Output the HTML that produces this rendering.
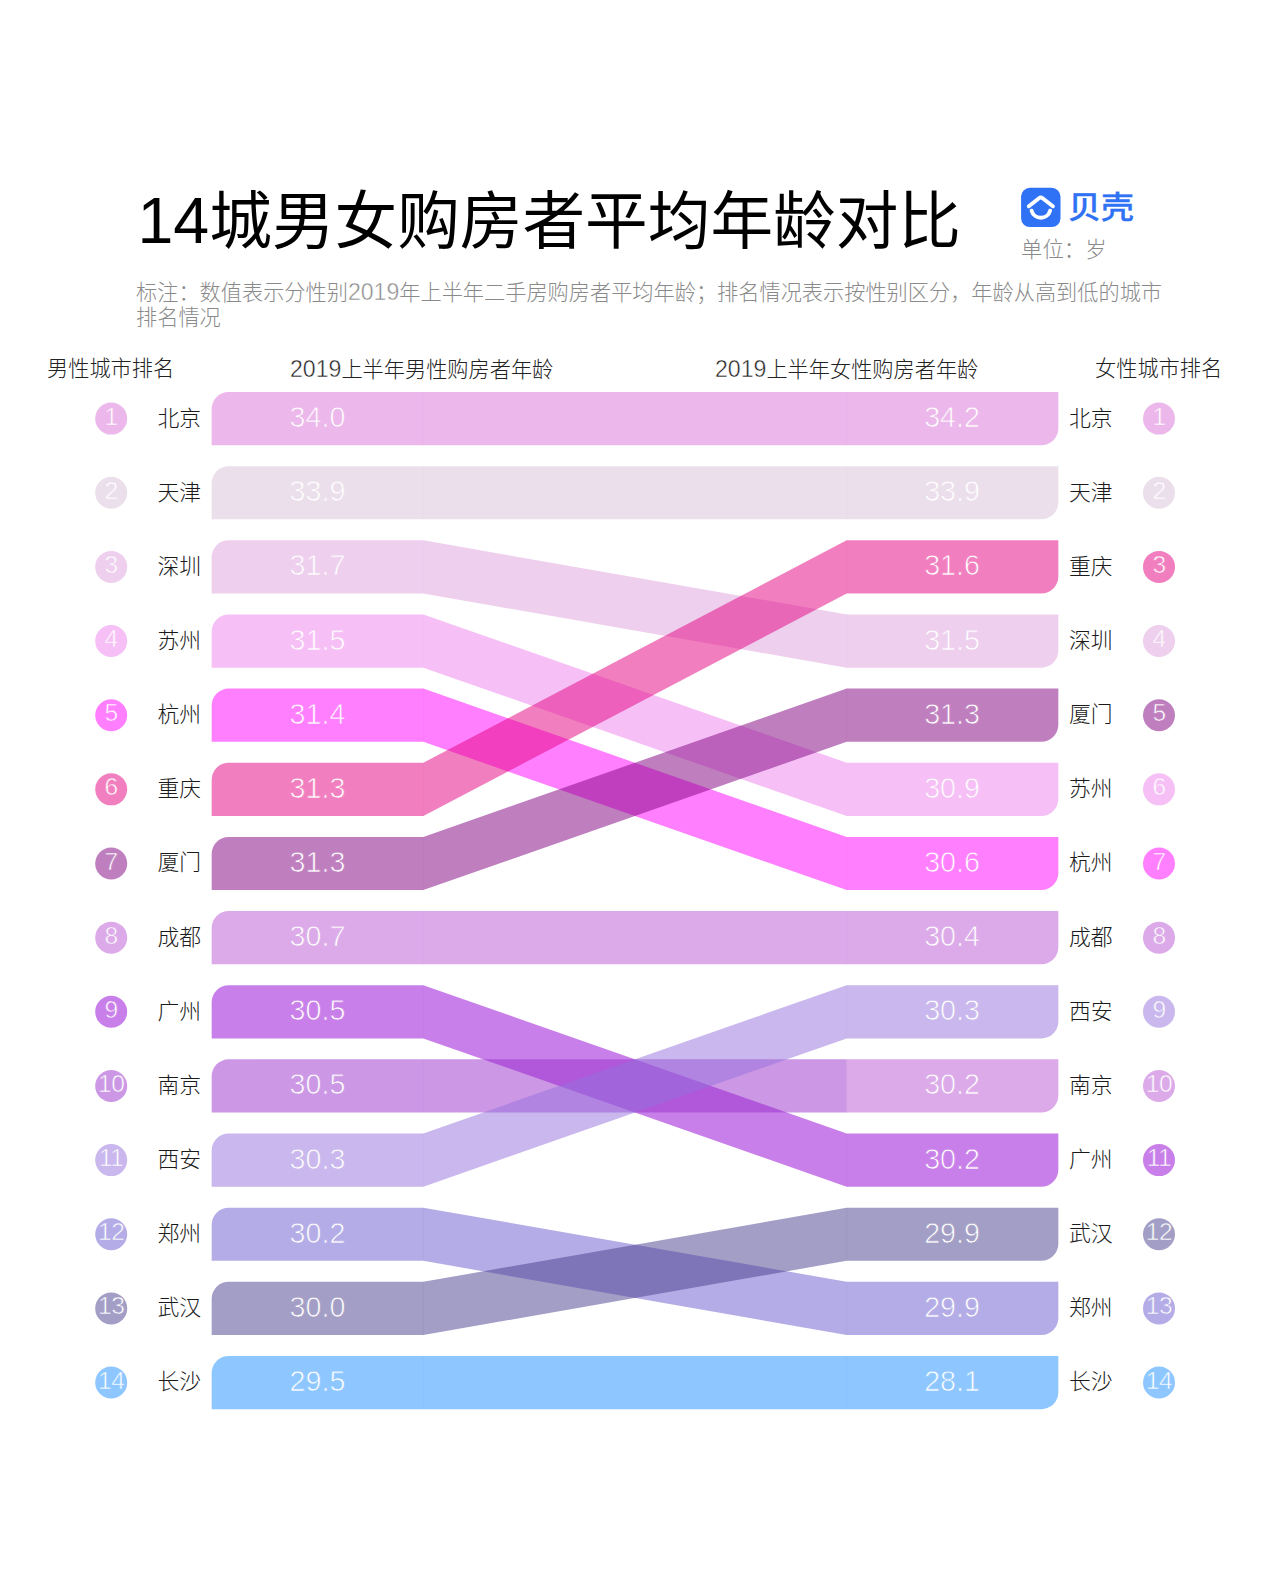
<!DOCTYPE html>
<html lang="zh-CN">
<head>
<meta charset="utf-8">
<title>14城男女购房者平均年龄对比</title>
<style>
*{margin:0;padding:0;box-sizing:border-box}
html,body{width:1270px;height:1580px;background:#fff;overflow:hidden}
body{position:relative;font-family:"Liberation Sans","Noto Sans CJK SC",sans-serif;font-weight:300;color:#222}
.abs,.n,.c,.v,.h{position:absolute;white-space:nowrap}
#title{left:137.5px;top:178.4px;font-size:62.65px;line-height:86px;color:#000;font-weight:400}
#title b{font-weight:400;font-size:64.5px}
.d{font-size:1.09em;-webkit-text-stroke:0.45px #fff}
#note{left:136px;top:279.8px;width:1040px;font-size:21.2px;line-height:25px;color:#8a8a8a;white-space:normal}
#brand{left:1068px;top:185px;font-size:33px;line-height:46px;color:#3072f5;font-weight:500;-webkit-text-stroke:0.35px #3072f5;transform:scaleY(.93);transform-origin:50% 50%}
#unit{left:1021px;top:234.6px;font-size:21.4px;line-height:30px;color:#8a8a8a}
.h{top:354.2px;font-size:21.2px;line-height:30px;color:#222}
.r{position:absolute;left:0;width:0;height:0}
.n{top:-18px;width:40px;height:32px;line-height:32px;text-align:center;font-size:24.6px;letter-spacing:-0.5px;color:#fff;-webkit-text-stroke:0.6px var(--k)}
.nl{left:91.2px}.nr{left:1139px}
.c{top:-16.1px;height:32px;line-height:32px;font-size:21.8px;color:#1a1a1a}
.cl{left:101px;width:100px;text-align:right}.cr{left:1069px}
.v{top:-21.5px;height:40px;line-height:40px;font-size:28.7px;color:#fff;-webkit-text-stroke:0.75px var(--k)}
.vl{left:289.5px}.vr{left:780px;width:200px;text-align:right}
svg{position:absolute;left:0;top:0}
</style>
</head>
<body>
<svg width="1270" height="1580" viewBox="0 0 1270 1580">
<g fill-opacity="0.5">
<path d="M211.67 445.2V409A17 17 0 0 1 228.67 392H423.33L846.67 392H1058.33V428.2A17 17 0 0 1 1041.33 445.2H846.67L423.33 445.2Z" fill="#da70d6"/>
<path d="M211.67 519.35V483.15A17 17 0 0 1 228.67 466.15H423.33L846.67 466.15H1058.33V502.35A17 17 0 0 1 1041.33 519.35H846.67L423.33 519.35Z" fill="#d8bfd8"/>
<path d="M211.67 593.5V557.3A17 17 0 0 1 228.67 540.3H423.33L846.67 614.45H1058.33V650.65A17 17 0 0 1 1041.33 667.65H846.67L423.33 593.5Z" fill="#dda0dd"/>
<path d="M211.67 667.65V631.45A17 17 0 0 1 228.67 614.45H423.33L846.67 762.75H1058.33V798.95A17 17 0 0 1 1041.33 815.95H846.67L423.33 667.65Z" fill="#ee82ee"/>
<path d="M211.67 741.8V705.6A17 17 0 0 1 228.67 688.6H423.33L846.67 836.9H1058.33V873.1A17 17 0 0 1 1041.33 890.1H846.67L423.33 741.8Z" fill="#ff00ff"/>
<path d="M211.67 815.95V779.75A17 17 0 0 1 228.67 762.75H423.33L846.67 540.3H1058.33V576.5A17 17 0 0 1 1041.33 593.5H846.67L423.33 815.95Z" fill="#e4007f"/>
<path d="M211.67 890.1V853.9A17 17 0 0 1 228.67 836.9H423.33L846.67 688.6H1058.33V724.8A17 17 0 0 1 1041.33 741.8H846.67L423.33 890.1Z" fill="#800080"/>
<path d="M211.67 964.25V928.05A17 17 0 0 1 228.67 911.05H423.33L846.67 911.05H1058.33V947.25A17 17 0 0 1 1041.33 964.25H846.67L423.33 964.25Z" fill="#ba55d3"/>
<path d="M211.67 1038.4V1002.2A17 17 0 0 1 228.67 985.2H423.33L846.67 1133.5H1058.33V1169.7A17 17 0 0 1 1041.33 1186.7H846.67L423.33 1038.4Z" fill="#9400d3"/>
<path d="M211.67 1112.55V1076.35A17 17 0 0 1 228.67 1059.35H423.33L846.67 1059.35V1112.55L423.33 1112.55Z" fill="#9932cc"/>
<path d="M846.67 1059.35H1058.33V1095.55A17 17 0 0 1 1041.33 1112.55H846.67Z" fill="#ba55d3"/>
<path d="M211.67 1186.7V1150.5A17 17 0 0 1 228.67 1133.5H423.33L846.67 985.2H1058.33V1021.4A17 17 0 0 1 1041.33 1038.4H846.67L423.33 1186.7Z" fill="#9370db"/>
<path d="M211.67 1260.85V1224.65A17 17 0 0 1 228.67 1207.65H423.33L846.67 1281.8H1058.33V1318A17 17 0 0 1 1041.33 1335H846.67L423.33 1260.85Z" fill="#6a5acd"/>
<path d="M211.67 1335V1298.8A17 17 0 0 1 228.67 1281.8H423.33L846.67 1207.65H1058.33V1243.85A17 17 0 0 1 1041.33 1260.85H846.67L423.33 1335Z" fill="#483d8b"/>
<path d="M211.67 1409.15V1372.95A17 17 0 0 1 228.67 1355.95H423.33L846.67 1355.95H1058.33V1392.15A17 17 0 0 1 1041.33 1409.15H846.67L423.33 1409.15Z" fill="#1e90ff"/>
<circle cx="111.2" cy="418.6" r="16" fill="#da70d6"/>
<circle cx="111.2" cy="492.75" r="16" fill="#d8bfd8"/>
<circle cx="111.2" cy="566.9" r="16" fill="#dda0dd"/>
<circle cx="111.2" cy="641.05" r="16" fill="#ee82ee"/>
<circle cx="111.2" cy="715.2" r="16" fill="#ff00ff"/>
<circle cx="111.2" cy="789.35" r="16" fill="#e4007f"/>
<circle cx="111.2" cy="863.5" r="16" fill="#800080"/>
<circle cx="111.2" cy="937.65" r="16" fill="#ba55d3"/>
<circle cx="111.2" cy="1011.8" r="16" fill="#9400d3"/>
<circle cx="111.2" cy="1085.95" r="16" fill="#9932cc"/>
<circle cx="111.2" cy="1160.1" r="16" fill="#9370db"/>
<circle cx="111.2" cy="1234.25" r="16" fill="#6a5acd"/>
<circle cx="111.2" cy="1308.4" r="16" fill="#483d8b"/>
<circle cx="111.2" cy="1382.55" r="16" fill="#1e90ff"/>
<circle cx="1159" cy="418.6" r="16" fill="#da70d6"/>
<circle cx="1159" cy="492.75" r="16" fill="#d8bfd8"/>
<circle cx="1159" cy="566.9" r="16" fill="#e4007f"/>
<circle cx="1159" cy="641.05" r="16" fill="#dda0dd"/>
<circle cx="1159" cy="715.2" r="16" fill="#800080"/>
<circle cx="1159" cy="789.35" r="16" fill="#ee82ee"/>
<circle cx="1159" cy="863.5" r="16" fill="#ff00ff"/>
<circle cx="1159" cy="937.65" r="16" fill="#ba55d3"/>
<circle cx="1159" cy="1011.8" r="16" fill="#9370db"/>
<circle cx="1159" cy="1085.95" r="16" fill="#ba55d3"/>
<circle cx="1159" cy="1160.1" r="16" fill="#9400d3"/>
<circle cx="1159" cy="1234.25" r="16" fill="#483d8b"/>
<circle cx="1159" cy="1308.4" r="16" fill="#6a5acd"/>
<circle cx="1159" cy="1382.55" r="16" fill="#1e90ff"/>
</g>
<g fill-opacity="0.06">
<rect x="422.83" y="392" width="1" height="53.2" fill="#da70d6"/>
<rect x="846.17" y="392" width="1" height="53.2" fill="#da70d6"/>
<rect x="422.83" y="466.15" width="1" height="53.2" fill="#d8bfd8"/>
<rect x="846.17" y="466.15" width="1" height="53.2" fill="#d8bfd8"/>
<rect x="422.83" y="540.3" width="1" height="53.2" fill="#dda0dd"/>
<rect x="846.17" y="614.45" width="1" height="53.2" fill="#dda0dd"/>
<rect x="422.83" y="614.45" width="1" height="53.2" fill="#ee82ee"/>
<rect x="846.17" y="762.75" width="1" height="53.2" fill="#ee82ee"/>
<rect x="422.83" y="688.6" width="1" height="53.2" fill="#ff00ff"/>
<rect x="846.17" y="836.9" width="1" height="53.2" fill="#ff00ff"/>
<rect x="422.83" y="762.75" width="1" height="53.2" fill="#e4007f"/>
<rect x="846.17" y="540.3" width="1" height="53.2" fill="#e4007f"/>
<rect x="422.83" y="836.9" width="1" height="53.2" fill="#800080"/>
<rect x="846.17" y="688.6" width="1" height="53.2" fill="#800080"/>
<rect x="422.83" y="911.05" width="1" height="53.2" fill="#ba55d3"/>
<rect x="846.17" y="911.05" width="1" height="53.2" fill="#ba55d3"/>
<rect x="422.83" y="985.2" width="1" height="53.2" fill="#9400d3"/>
<rect x="846.17" y="1133.5" width="1" height="53.2" fill="#9400d3"/>
<rect x="422.83" y="1059.35" width="1" height="53.2" fill="#9932cc"/>
<rect x="846.17" y="1059.35" width="1" height="53.2" fill="#9932cc"/>
<rect x="422.83" y="1133.5" width="1" height="53.2" fill="#9370db"/>
<rect x="846.17" y="985.2" width="1" height="53.2" fill="#9370db"/>
<rect x="422.83" y="1207.65" width="1" height="53.2" fill="#6a5acd"/>
<rect x="846.17" y="1281.8" width="1" height="53.2" fill="#6a5acd"/>
<rect x="422.83" y="1281.8" width="1" height="53.2" fill="#483d8b"/>
<rect x="846.17" y="1207.65" width="1" height="53.2" fill="#483d8b"/>
<rect x="422.83" y="1355.95" width="1" height="53.2" fill="#1e90ff"/>
<rect x="846.17" y="1355.95" width="1" height="53.2" fill="#1e90ff"/>
</g>
<g transform="translate(1021.1 187.8)">
<rect width="39.4" height="39.3" rx="8.8" fill="#3072f5"/>
<path d="M7.7 18.4L17.9 10.5Q19.7 9.1 21.5 10.5L31.8 18.4" fill="none" stroke="#fff" stroke-width="3.9" stroke-linecap="round" stroke-linejoin="round"/>
<path d="M10.5 22.9A9.6 9.6 0 0 0 29 22.9" fill="none" stroke="#fff" stroke-width="3.9" stroke-linecap="round"/>
</g>
</svg>
<div id="title" class="abs"><b>14</b>城男女购房者平均年龄对比</div>
<div id="brand" class="abs">贝壳</div>
<div id="unit" class="abs">单位：岁</div>
<div id="note" class="abs">标注：数值表示分性别<span class="d">2019</span>年上半年二手房购房者平均年龄；排名情况表示按性别区分，年龄从高到低的城市排名情况</div>
<div class="h" style="left:47px">男性城市排名</div>
<div class="h" style="left:290px"><span class="d">2019</span>上半年男性购房者年龄</div>
<div class="h" style="left:715px"><span class="d">2019</span>上半年女性购房者年龄</div>
<div class="h" style="left:1095px">女性城市排名</div>
<div class="r" style="top:418.6px;--k:#ecb8ea"><div class="n nl">1</div><div class="c cl">北京</div><div class="v vl">34.0</div></div>
<div class="r" style="top:492.75px;--k:#ecdfec"><div class="n nl">2</div><div class="c cl">天津</div><div class="v vl">33.9</div></div>
<div class="r" style="top:566.9px;--k:#eed0ee"><div class="n nl">3</div><div class="c cl">深圳</div><div class="v vl">31.7</div></div>
<div class="r" style="top:641.05px;--k:#f6c0f6"><div class="n nl">4</div><div class="c cl">苏州</div><div class="v vl">31.5</div></div>
<div class="r" style="top:715.2px;--k:#ff80ff"><div class="n nl">5</div><div class="c cl">杭州</div><div class="v vl">31.4</div></div>
<div class="r" style="top:789.35px;--k:#f280bf"><div class="n nl">6</div><div class="c cl">重庆</div><div class="v vl">31.3</div></div>
<div class="r" style="top:863.5px;--k:#c080c0"><div class="n nl">7</div><div class="c cl">厦门</div><div class="v vl">31.3</div></div>
<div class="r" style="top:937.65px;--k:#dcaae9"><div class="n nl">8</div><div class="c cl">成都</div><div class="v vl">30.7</div></div>
<div class="r" style="top:1011.8px;--k:#ca80e9"><div class="n nl">9</div><div class="c cl">广州</div><div class="v vl">30.5</div></div>
<div class="r" style="top:1085.95px;--k:#cc98e6"><div class="n nl">10</div><div class="c cl">南京</div><div class="v vl">30.5</div></div>
<div class="r" style="top:1160.1px;--k:#c9b8ed"><div class="n nl">11</div><div class="c cl">西安</div><div class="v vl">30.3</div></div>
<div class="r" style="top:1234.25px;--k:#b4ace6"><div class="n nl">12</div><div class="c cl">郑州</div><div class="v vl">30.2</div></div>
<div class="r" style="top:1308.4px;--k:#a49ec5"><div class="n nl">13</div><div class="c cl">武汉</div><div class="v vl">30.0</div></div>
<div class="r" style="top:1382.55px;--k:#8ec8ff"><div class="n nl">14</div><div class="c cl">长沙</div><div class="v vl">29.5</div></div>
<div class="r" style="top:418.6px;--k:#ecb8ea"><div class="v vr">34.2</div><div class="c cr">北京</div><div class="n nr">1</div></div>
<div class="r" style="top:492.75px;--k:#ecdfec"><div class="v vr">33.9</div><div class="c cr">天津</div><div class="n nr">2</div></div>
<div class="r" style="top:566.9px;--k:#f280bf"><div class="v vr">31.6</div><div class="c cr">重庆</div><div class="n nr">3</div></div>
<div class="r" style="top:641.05px;--k:#eed0ee"><div class="v vr">31.5</div><div class="c cr">深圳</div><div class="n nr">4</div></div>
<div class="r" style="top:715.2px;--k:#c080c0"><div class="v vr">31.3</div><div class="c cr">厦门</div><div class="n nr">5</div></div>
<div class="r" style="top:789.35px;--k:#f6c0f6"><div class="v vr">30.9</div><div class="c cr">苏州</div><div class="n nr">6</div></div>
<div class="r" style="top:863.5px;--k:#ff80ff"><div class="v vr">30.6</div><div class="c cr">杭州</div><div class="n nr">7</div></div>
<div class="r" style="top:937.65px;--k:#dcaae9"><div class="v vr">30.4</div><div class="c cr">成都</div><div class="n nr">8</div></div>
<div class="r" style="top:1011.8px;--k:#c9b8ed"><div class="v vr">30.3</div><div class="c cr">西安</div><div class="n nr">9</div></div>
<div class="r" style="top:1085.95px;--k:#dcaae9"><div class="v vr">30.2</div><div class="c cr">南京</div><div class="n nr">10</div></div>
<div class="r" style="top:1160.1px;--k:#ca80e9"><div class="v vr">30.2</div><div class="c cr">广州</div><div class="n nr">11</div></div>
<div class="r" style="top:1234.25px;--k:#a49ec5"><div class="v vr">29.9</div><div class="c cr">武汉</div><div class="n nr">12</div></div>
<div class="r" style="top:1308.4px;--k:#b4ace6"><div class="v vr">29.9</div><div class="c cr">郑州</div><div class="n nr">13</div></div>
<div class="r" style="top:1382.55px;--k:#8ec8ff"><div class="v vr">28.1</div><div class="c cr">长沙</div><div class="n nr">14</div></div>
</body>
</html>
